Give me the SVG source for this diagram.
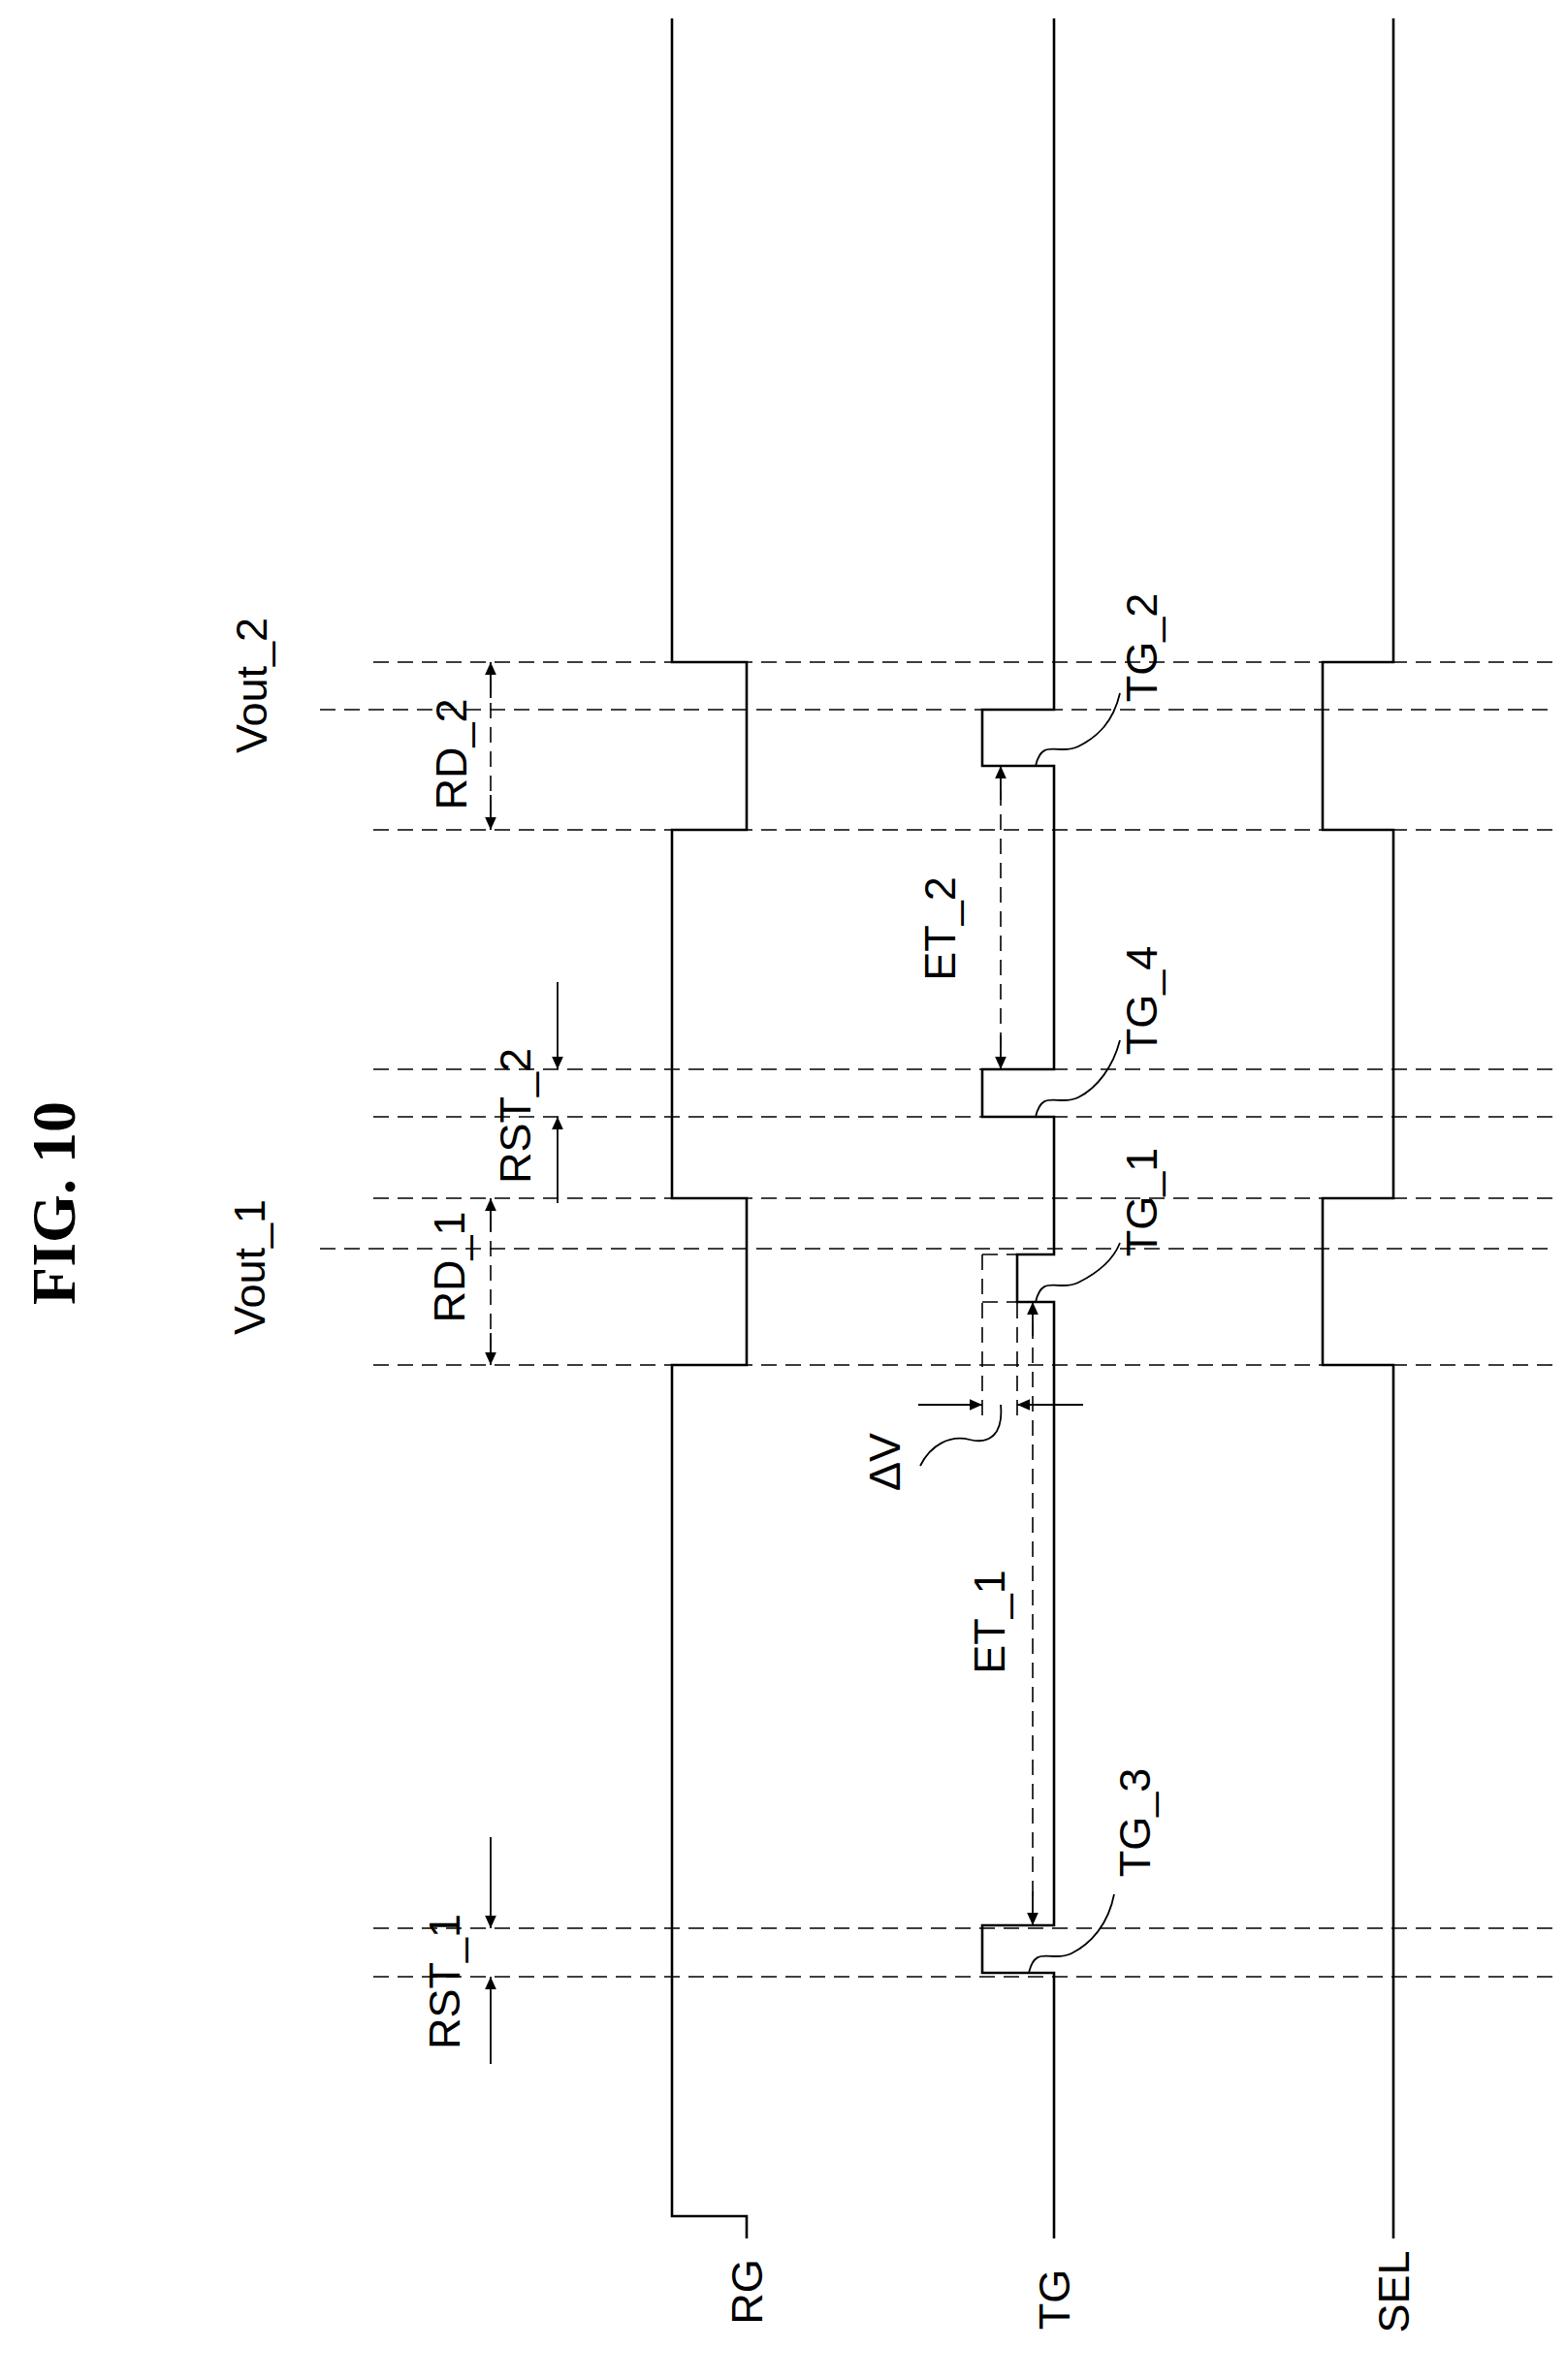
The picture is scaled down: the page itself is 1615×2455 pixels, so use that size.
<svg xmlns="http://www.w3.org/2000/svg" width="1615" height="2455" viewBox="0 0 1615 2455">
<style>
.sig{fill:none;stroke:#000;stroke-width:2.6}
.dash{fill:none;stroke:#000;stroke-width:1.6;stroke-dasharray:16 9}
.thin{fill:none;stroke:#000;stroke-width:1.8}
.t{font-family:"Liberation Sans",Arial,sans-serif;font-size:45px;text-anchor:middle;dominant-baseline:central}
</style>
<defs>
<marker id="ah" viewBox="0 0 10 10" refX="10" refY="5" markerWidth="26" markerHeight="13" markerUnits="userSpaceOnUse" orient="auto"><path d="M0,0.5 L10,5 L0,9.5 z" fill="#000"/></marker>
</defs>
<rect width="1615" height="2455" fill="#fff"/>
<g id="title"><text class="t" transform="translate(55,1241) rotate(-90)" style="font-family:'Liberation Serif',serif;font-weight:bold;font-size:64px">FIG. 10</text></g>
<g id="connectors">
<path class="dash" d="M385 683H1602M330 732H1602M385 856H1602M385 1103H1602M385 1152H1602M385 1236H1602M330 1288H1602M385 1408H1602M385 1989H1602M385 2039H1602"/>
<path class="dash" d="M1013 1294H1049M1013 1343H1049M1013 1294V1467M1049 1294V1467"/>
<path class="dash" d="M506 700V840"/>
<path class="thin" d="M506 720L506 683" marker-end="url(#ah)"/>
<path class="thin" d="M506 820L506 856" marker-end="url(#ah)"/>
<path class="dash" d="M506 1255V1390"/>
<path class="thin" d="M506 1270L506 1236" marker-end="url(#ah)"/>
<path class="thin" d="M506 1375L506 1408" marker-end="url(#ah)"/>
<path class="thin" d="M575 1013L575 1103" marker-end="url(#ah)"/>
<path class="thin" d="M575 1241L575 1152" marker-end="url(#ah)"/>
<path class="thin" d="M506 1895L506 1989" marker-end="url(#ah)"/>
<path class="thin" d="M506 2129L506 2039" marker-end="url(#ah)"/>
<path class="dash" d="M1032 815V1080"/>
<path class="thin" d="M1032 825L1032 790" marker-end="url(#ah)"/>
<path class="thin" d="M1032 1068L1032 1103" marker-end="url(#ah)"/>
<path class="dash" d="M1065 1365V1965"/>
<path class="thin" d="M1065 1378L1065 1343" marker-end="url(#ah)"/>
<path class="thin" d="M1065 1951L1065 1986" marker-end="url(#ah)"/>
<path class="thin" d="M947 1449L1013 1449" marker-end="url(#ah)"/>
<path class="thin" d="M1117 1449L1049 1449" marker-end="url(#ah)"/>
<path class="thin" d="M1068 790C1075 760 1092 780 1112 770S1148 745 1155 715"/>
<path class="thin" d="M1068 1152C1075 1122 1092 1142 1112 1132S1148 1100 1155 1073"/>
<path class="thin" d="M1068 1343C1075 1313 1092 1333 1112 1323S1148 1300 1155 1282"/>
<path class="thin" d="M1061 2035C1068 2005 1085 2025 1105 2015S1143 1985 1149 1954"/>
<path class="thin" d="M1032 1449C1035 1480 1020 1490 1000 1485S960 1490 949 1512"/>
</g>
<g id="RG"><path class="sig" d="M693 19V683H770V856H693V1236H770V1408H693V2286H770V2309"/><text class="t" transform="translate(770,2364) rotate(-90)">RG</text></g>
<g id="TG"><path class="sig" d="M1087 19V732H1013V790H1087V1103H1013V1152H1087V1294H1049V1343H1087V1986H1013V2035H1087V2309"/><text class="t" transform="translate(1087,2372) rotate(-90)">TG</text></g>
<g id="SEL"><path class="sig" d="M1437 19V683H1364V856H1437V1236H1364V1408H1437V2309"/><text class="t" transform="translate(1437,2364) rotate(-90)">SEL</text></g>
<g id="labels">
<text class="t" transform="translate(259,707) rotate(-90)">Vout_2</text>
<text class="t" transform="translate(257,1307) rotate(-90)">Vout_1</text>
<text class="t" transform="translate(465,778) rotate(-90)">RD_2</text>
<text class="t" transform="translate(463,1307) rotate(-90)">RD_1</text>
<text class="t" transform="translate(531,1151) rotate(-90)">RST_2</text>
<text class="t" transform="translate(458,2044) rotate(-90)">RST_1</text>
<text class="t" transform="translate(969,958) rotate(-90)">ET_2</text>
<text class="t" transform="translate(1020,1673) rotate(-90)">ET_1</text>
<text class="t" transform="translate(912,1508) rotate(-90)">ΔV</text>
<text class="t" transform="translate(1177,668) rotate(-90)">TG_2</text>
<text class="t" transform="translate(1177,1032) rotate(-90)">TG_4</text>
<text class="t" transform="translate(1177,1240) rotate(-90)">TG_1</text>
<text class="t" transform="translate(1170,1880) rotate(-90)">TG_3</text>
</g>
</svg>
